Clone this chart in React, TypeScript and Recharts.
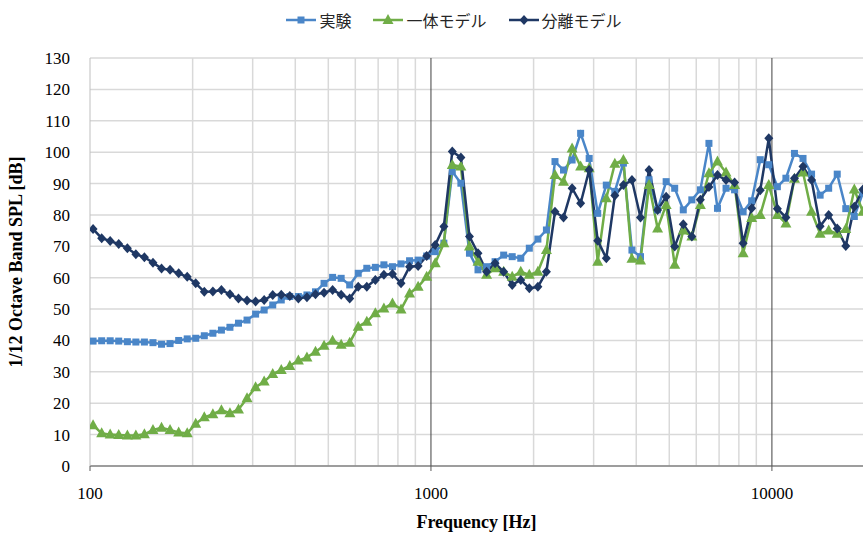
import React from 'react';
import { LineChart, Line, XAxis, YAxis, CartesianGrid, ReferenceLine, Label } from 'recharts';

// 1/12 octave band centre frequencies [Hz]
const FREQ = [
  102.1, 108.2, 114.6, 121.4,
  128.7, 136.3, 144.4, 153.0, 162.1, 171.7, 182.0, 192.8, 204.2, 216.4, 229.3, 242.9,
  257.3, 272.6, 288.8, 306.0, 324.2, 343.5, 363.9, 385.5, 408.5, 432.8, 458.5, 485.8,
  514.7, 545.3, 577.7, 612.0, 648.4, 687.0, 727.8, 771.1, 817.0, 865.5, 917.0, 971.5,
  1029, 1091, 1155, 1224, 1297, 1374, 1456, 1542, 1634, 1731, 1834, 1943,
  2059, 2181, 2311, 2448, 2594, 2748, 2911, 3084, 3268, 3462, 3668, 3886,
  4117, 4362, 4621, 4896, 5187, 5496, 5823, 6169, 6536, 6924, 7336, 7772,
  8234, 8724, 9243, 9792, 10375, 10992, 11645, 12338, 13071, 13849, 14672, 15545,
  16469, 17448, 18486,
];

// 実験
const EXPERIMENT = [
  39.8, 39.9, 39.9, 39.8, 39.6, 39.5, 39.5, 39.3, 38.8, 39.0,
  40.0, 40.5, 40.7, 41.5, 42.3, 43.3, 44.2, 45.5, 46.5, 48.4,
  49.7, 51.3, 52.9, 54.0, 54.0, 54.5, 55.5, 58.2, 60.1, 59.8,
  57.7, 61.4, 63.0, 63.3, 64.1, 63.5, 64.4, 65.4, 65.6, 66.9,
  68.3, 71.0, 93.8, 90.1, 67.8, 62.5, 63.5, 65.1, 67.2, 66.7,
  66.2, 69.4, 72.3, 75.2, 97.0, 94.3, 97.5, 106.0, 98.0, 80.5,
  89.5, 87.5, 96.5, 68.8, 66.7, 91.2, 81.6, 90.6, 88.5, 81.6,
  84.8, 88.0, 102.8, 82.1, 88.5, 88.0, 81.0, 84.5, 97.6, 96.0,
  89.0, 91.7, 99.6, 98.0, 93.0, 86.3, 88.5, 93.0, 82.0, 79.5,
  87.0,
];

// 一体モデル
const UNIFIED = [
  13.0, 10.4, 10.0, 9.9, 9.7, 9.7, 10.1, 11.5, 12.2, 11.5,
  10.7, 10.4, 13.5, 15.5, 16.5, 17.8, 16.8, 18.0, 21.6, 25.1,
  26.9, 29.3, 30.6, 31.9, 33.6, 34.6, 36.4, 38.3, 39.9, 38.6,
  39.3, 44.4, 46.0, 48.7, 50.2, 51.8, 49.9, 55.0, 57.1, 60.3,
  64.6, 71.0, 95.9, 95.4, 69.9, 65.1, 60.9, 63.0, 61.9, 60.3,
  61.9, 60.9, 61.9, 68.8, 92.7, 90.6, 101.2, 95.4, 94.9, 65.1,
  85.3, 96.3, 97.5, 66.0, 65.5, 89.5, 75.7, 83.2, 64.1, 75.0,
  73.1, 83.2, 93.3, 97.0, 93.5, 89.5, 67.8, 79.0, 80.0, 89.5,
  80.0, 77.3, 91.5, 93.5, 81.0, 74.0, 75.0, 74.0, 75.5, 88.1,
  81.0,
];

// 分離モデル
const SEPARATED = [
  75.5, 72.6, 71.7, 70.7, 69.4, 67.5, 66.5, 64.8, 62.9, 62.5,
  61.4, 60.3, 58.2, 55.5, 55.6, 56.1, 54.7, 53.4, 52.7, 52.4,
  52.9, 54.5, 54.6, 54.2, 53.4, 53.8, 54.7, 55.2, 56.1, 54.6,
  53.4, 57.1, 57.1, 59.3, 60.9, 61.2, 58.2, 63.5, 63.7, 66.9,
  70.4, 76.3, 100.2, 98.3, 73.1, 67.8, 61.9, 64.6, 61.9, 57.7,
  59.3, 56.6, 57.1, 61.9, 81.0, 79.2, 88.5, 83.7, 94.3, 71.8,
  66.2, 86.2, 89.5, 91.1, 79.2, 94.3, 81.6, 85.8, 69.9, 77.0,
  73.1, 84.8, 88.9, 92.7, 91.1, 90.3, 71.0, 82.1, 87.9, 104.4,
  82.0, 79.2, 91.7, 95.4, 91.1, 76.4, 80.0, 75.7, 70.1, 82.6,
  88.1,
];

const X_TICKS = [100, 1000, 10000];
const Y_TICKS = [0, 10, 20, 30, 40, 50, 60, 70, 80, 90, 100, 110, 120, 130];
const MINOR_X = [200, 300, 400, 500, 600, 700, 800, 900, 2000, 3000, 4000, 5000, 6000, 7000, 8000, 9000];
const MAJOR_X = [1000, 10000];

const BLUE = '#4a86c8';
const GREEN = '#70ad47';
const NAVY = '#1f3864';
const SERIF = '"Liberation Serif", "Times New Roman", serif';
const JP = '"Noto Sans CJK JP", sans-serif';

const data = FREQ.map((f, i) => ({
  f,
  experiment: EXPERIMENT[i],
  unified: UNIFIED[i],
  separated: SEPARATED[i],
}));

const SquareDot = (props: any) => {
  const { cx, cy } = props;
  if (cx == null || cy == null) return null;
  return <rect x={cx - 3.5} y={cy - 3.5} width={7} height={7} fill={BLUE} />;
};

const TriangleDot = (props: any) => {
  const { cx, cy } = props;
  if (cx == null || cy == null) return null;
  return <polygon points={`${cx},${cy - 6} ${cx - 5.5},${cy + 4} ${cx + 5.5},${cy + 4}`} fill={GREEN} />;
};

const DiamondDot = (props: any) => {
  const { cx, cy } = props;
  if (cx == null || cy == null) return null;
  return <polygon points={`${cx},${cy - 5} ${cx + 4.5},${cy} ${cx},${cy + 5} ${cx - 4.5},${cy}`} fill={NAVY} />;
};

// tick text in Times-like serif
const XTick = (props: any) => {
  const { x, y, payload } = props;
  return (
    <text x={x} y={y} dy="0.71em" textAnchor="middle" fill="#000" fontFamily={SERIF} fontSize={17}>
      {payload.value}
    </text>
  );
};

const YTick = (props: any) => {
  const { x, y, payload } = props;
  return (
    <text x={x} y={y} dy="0.355em" textAnchor="end" fill="#000" fontFamily={SERIF} fontSize={17}>
      {payload.value}
    </text>
  );
};

const LEGEND = [
  { name: '実験', color: BLUE, marker: 'square' },
  { name: '一体モデル', color: GREEN, marker: 'triangle' },
  { name: '分離モデル', color: NAVY, marker: 'diamond' },
];

function LegendIcon({ color, marker }: { color: string; marker: string }) {
  return (
    <svg width={30} height={14} style={{ display: 'block' }}>
      <line x1={0} y1={7} x2={30} y2={7} stroke={color} strokeWidth={2.5} />
      {marker === 'square' && <rect x={11.5} y={3.5} width={7} height={7} fill={color} />}
      {marker === 'triangle' && <polygon points="15,1 9.5,11 20.5,11" fill={color} />}
      {marker === 'diamond' && <polygon points="15,2 19.5,7 15,12 10.5,7" fill={color} />}
    </svg>
  );
}

export default function App() {
  return (
    <div
      style={{
        position: 'absolute',
        left: 0,
        top: 0,
        width: 863,
        height: 536,
        background: '#fff',
        overflow: 'hidden',
        fontFamily: SERIF,
      }}
    >
      <div
        style={{
          position: 'absolute',
          top: 8,
          left: 45,
          right: 0,
          display: 'flex',
          justifyContent: 'center',
          gap: 22,
          fontFamily: JP,
          fontSize: 16,
          color: '#262626',
        }}
      >
        {LEGEND.map((item) => (
          <div key={item.name} style={{ display: 'flex', alignItems: 'center', gap: 3 }}>
            <LegendIcon color={item.color} marker={item.marker} />
            <span>{item.name}</span>
          </div>
        ))}
      </div>
      <LineChart width={863} height={536} data={data} margin={{ top: 58, right: 0, bottom: 0, left: 0 }}>
        <CartesianGrid vertical={false} stroke="#d9d9d9" strokeWidth={1.5} />
        {MINOR_X.map((x) => (
          <ReferenceLine key={x} x={x} stroke="#d9d9d9" strokeWidth={1.5} />
        ))}
        {MAJOR_X.map((x) => (
          <ReferenceLine key={x} x={x} stroke="#404040" strokeWidth={1} />
        ))}
        <XAxis
          dataKey="f"
          type="number"
          scale="log"
          domain={[100, 18500]}
          ticks={X_TICKS}
          allowDataOverflow
          height={70}
          stroke="#595959"
          tickSize={5}
          tickMargin={16}
          tick={<XTick />}
        >
          <Label
            value="Frequency [Hz]"
            position="insideBottom"
            offset={8}
            style={{ fontFamily: SERIF, fontSize: 18, fontWeight: 'bold', fill: '#000' }}
          />
        </XAxis>
        <YAxis
          type="number"
          domain={[0, 130]}
          ticks={Y_TICKS}
          interval={0}
          width={90}
          stroke="#bfbfbf"
          tickLine={false}
          tickMargin={14}
          tick={<YTick />}
        >
          <Label
            value="1/12 Octave Band SPL [dB]"
            angle={-90}
            position="insideLeft"
            offset={16}
            style={{ textAnchor: 'middle', fontFamily: SERIF, fontSize: 18, fontWeight: 'bold', fill: '#000' }}
          />
        </YAxis>
        <Line
          dataKey="experiment"
          name="実験"
          stroke={BLUE}
          strokeWidth={2.5}
          dot={<SquareDot />}
          activeDot={false}
          isAnimationActive={false}
        />
        <Line
          dataKey="unified"
          name="一体モデル"
          stroke={GREEN}
          strokeWidth={2.5}
          dot={<TriangleDot />}
          activeDot={false}
          isAnimationActive={false}
        />
        <Line
          dataKey="separated"
          name="分離モデル"
          stroke={NAVY}
          strokeWidth={2.5}
          dot={<DiamondDot />}
          activeDot={false}
          isAnimationActive={false}
        />
      </LineChart>
    </div>
  );
}
